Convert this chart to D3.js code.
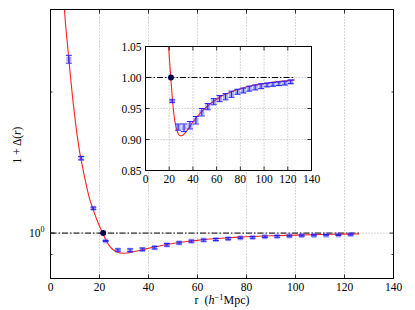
<!DOCTYPE html>
<html><head><meta charset="utf-8">
<script src="https://cdn.jsdelivr.net/npm/d3@7"></script>
<style>body{margin:0;background:#fff}svg{display:block}text{font-family:"Liberation Serif","DejaVu Serif",serif;fill:#000}</style>
</head><body><div id="c"></div>
<script>
// Measured points (r, 1+Delta, error)
const ptR   = [7.5, 12.5, 17.5, 22.5, 27.5, 32.5, 37.5, 42.5, 47.5, 52.5, 57.5, 62.5, 67.5, 72.5, 77.5, 82.5, 87.5, 92.5, 97.5, 102.5, 107.5, 112.5, 117.5, 122.5];
const ptY   = [2.35, 1.445, 1.13, 0.962, 0.920, 0.919, 0.923, 0.931, 0.944, 0.953, 0.961, 0.966, 0.969, 0.973, 0.977, 0.979, 0.982, 0.984, 0.986, 0.988, 0.989, 0.990, 0.991, 0.993];
const ptErr = [0.045, 0.012, 0.006, 0.002, 0.005, 0.006, 0.006, 0.006, 0.006, 0.005, 0.005, 0.005, 0.005, 0.005, 0.004, 0.004, 0.004, 0.004, 0.004, 0.003, 0.003, 0.003, 0.003, 0.003];
// Reference point
const refR = 21.5, refY = 1.0;
// Model curve
const curveR = [5.5, 6, 7, 8, 9, 10, 11, 12, 13, 14, 15, 16, 17, 18, 19, 20, 21, 22, 23, 24, 25, 26, 27, 28, 29, 30, 31, 32, 34, 36, 38, 40, 45, 50, 55, 60, 65, 70, 75, 80, 90, 100, 110, 120, 126];
const curveY = [3.1, 2.85, 2.5, 2.2, 1.95, 1.76, 1.6, 1.48, 1.39, 1.31, 1.24, 1.18, 1.14, 1.10, 1.065, 1.035, 1.008, 0.982, 0.958, 0.940, 0.927, 0.918, 0.912, 0.908, 0.9065, 0.906, 0.9065, 0.908, 0.912, 0.917, 0.923, 0.928, 0.940, 0.950, 0.958, 0.965, 0.971, 0.975, 0.979, 0.982, 0.987, 0.990, 0.993, 0.995, 0.996];
// Ticks
const xTicks = [0, 20, 40, 60, 80, 100, 120, 140];
const yMinorTicks = [0.9, 2, 3];
const insetYTicks = [0.85, 0.90, 0.95, 1.00, 1.05];

const W = 415, H = 310;
const svg = d3.select("#c").append("svg").attr("width", W).attr("height", H);

function drawPanel(g, x, y, opts) {
  const [x0, x1] = x.range(), [y0, y1] = y.range();
  const id = opts.id;
  g.append("clipPath").attr("id", id).append("rect")
    .attr("x", x0).attr("y", y1).attr("width", x1 - x0).attr("height", y0 - y1);
  g.append("rect").attr("x", x0).attr("y", y1).attr("width", x1 - x0).attr("height", y0 - y1).attr("fill", "#fff");
  // grid
  const grid = g.append("g").attr("stroke", "#999").attr("stroke-width", 0.8).attr("stroke-dasharray", "1,2");
  xTicks.filter(t => t > 0 && t < 140).forEach(t => {
    grid.append("line").attr("x1", x(t)).attr("x2", x(t)).attr("y1", y0).attr("y2", y1);
  });
  opts.yGrid.forEach(t => {
    grid.append("line").attr("x1", x0).attr("x2", x1).attr("y1", y(t)).attr("y2", y(t));
  });
  const plot = g.append("g").attr("clip-path", `url(#${id})`);
  // dash-dot at 1
  plot.append("line").attr("x1", x(0)).attr("x2", x(126)).attr("y1", y(1)).attr("y2", y(1))
    .attr("stroke", "#000").attr("stroke-width", 1).attr("stroke-dasharray", "6,2,1.5,2");
  // curve
  plot.append("path").datum(curveR.map((r, i) => [r, curveY[i]]))
    .attr("d", d3.line().x(d => x(d[0])).y(d => y(d[1])).curve(d3.curveMonotoneX))
    .attr("fill", "none").attr("stroke", "#ff2020").attr("stroke-width", 1.1);
  // points
  ptR.forEach((r, i) => {
    const cx = x(r), yt = y(ptY[i] + ptErr[i]), yb = y(ptY[i] - ptErr[i]);
    plot.append("rect").attr("x", cx - 2.5).attr("y", y(ptY[i]) - 2.5).attr("width", 5).attr("height", 5)
      .attr("fill", "#4040ff").attr("opacity", 0.45);
    const e = plot.append("g").attr("stroke", "#2020ff").attr("stroke-width", 1);
    e.append("line").attr("x1", cx).attr("x2", cx).attr("y1", yt).attr("y2", yb);
    e.append("line").attr("x1", cx - 3).attr("x2", cx + 3).attr("y1", yt).attr("y2", yt);
    e.append("line").attr("x1", cx - 3).attr("x2", cx + 3).attr("y1", yb).attr("y2", yb);
  });
  plot.append("circle").attr("cx", x(refR)).attr("cy", y(refY)).attr("r", 3).attr("fill", "#000050");
  // frame
  g.append("rect").attr("x", x0).attr("y", y1).attr("width", x1 - x0).attr("height", y0 - y1)
    .attr("fill", "none").attr("stroke", "#000").attr("stroke-width", 1);
  // x ticks (inside, top & bottom)
  const tk = g.append("g").attr("stroke", "#000").attr("stroke-width", 0.8);
  xTicks.forEach(t => {
    tk.append("line").attr("x1", x(t)).attr("x2", x(t)).attr("y1", y0).attr("y2", y0 - 4);
    tk.append("line").attr("x1", x(t)).attr("x2", x(t)).attr("y1", y1).attr("y2", y1 + 4);
    g.append("text").attr("x", x(t)).attr("y", y0 + 12).attr("text-anchor", "middle")
      .attr("font-size", opts.fs).text(t);
  });
  opts.yMajor.forEach(t => {
    tk.append("line").attr("x1", x0).attr("x2", x0 + 4).attr("y1", y(t)).attr("y2", y(t));
    tk.append("line").attr("x1", x1).attr("x2", x1 - 4).attr("y1", y(t)).attr("y2", y(t));
  });
  opts.yMinor.forEach(t => {
    tk.append("line").attr("x1", x0).attr("x2", x0 + 2).attr("y1", y(t)).attr("y2", y(t));
    tk.append("line").attr("x1", x1).attr("x2", x1 - 2).attr("y1", y(t)).attr("y2", y(t));
  });
}

// Main panel
const xM = d3.scaleLinear().domain([0, 140]).range([50.5, 393.5]);
const yM = d3.scaleLog().domain([0.8, 3]).range([278.5, 9.5]);
const gM = svg.append("g");
drawPanel(gM, xM, yM, { id: "cm", yGrid: [1], yMajor: [1], yMinor: yMinorTicks, fs: 11.5 });
const lbl = gM.append("text").attr("x", xM.range()[0] - 6).attr("y", yM(1) + 4).attr("text-anchor", "end").attr("font-size", 11.5);
lbl.append("tspan").text("10");
lbl.append("tspan").attr("dy", -5).attr("font-size", 8).text("0");
// axis labels
const xl = svg.append("text").attr("x", 222).attr("y", 304).attr("text-anchor", "middle").attr("font-size", 12);
xl.append("tspan").text("r\u00a0\u00a0(");
xl.append("tspan").attr("font-style", "italic").text("h");
xl.append("tspan").attr("dy", -4).attr("font-size", 8.5).text("−1");
xl.append("tspan").attr("dy", 4).text("Mpc)");
const yl = svg.append("text").attr("transform", "translate(21,145) rotate(-90)").attr("text-anchor", "middle").attr("font-size", 11.5);
yl.append("tspan").text("1 + Δ(");
yl.append("tspan").attr("font-style", "italic").text("r");
yl.append("tspan").text(")");

// Inset panel
const xI = d3.scaleLinear().domain([0, 140]).range([145.5, 311.5]);
const yI = d3.scaleLinear().domain([0.85, 1.05]).range([170.5, 46.5]);
const gI = svg.append("g");
drawPanel(gI, xI, yI, { id: "ci", yGrid: [0.90, 0.95, 1.00], yMajor: insetYTicks, yMinor: [], fs: 11.5 });
insetYTicks.forEach(t => {
  gI.append("text").attr("x", xI.range()[0] - 4).attr("y", yI(t) + 4).attr("text-anchor", "end")
    .attr("font-size", 11.5).text(t.toFixed(2));
});
</script></body></html>
